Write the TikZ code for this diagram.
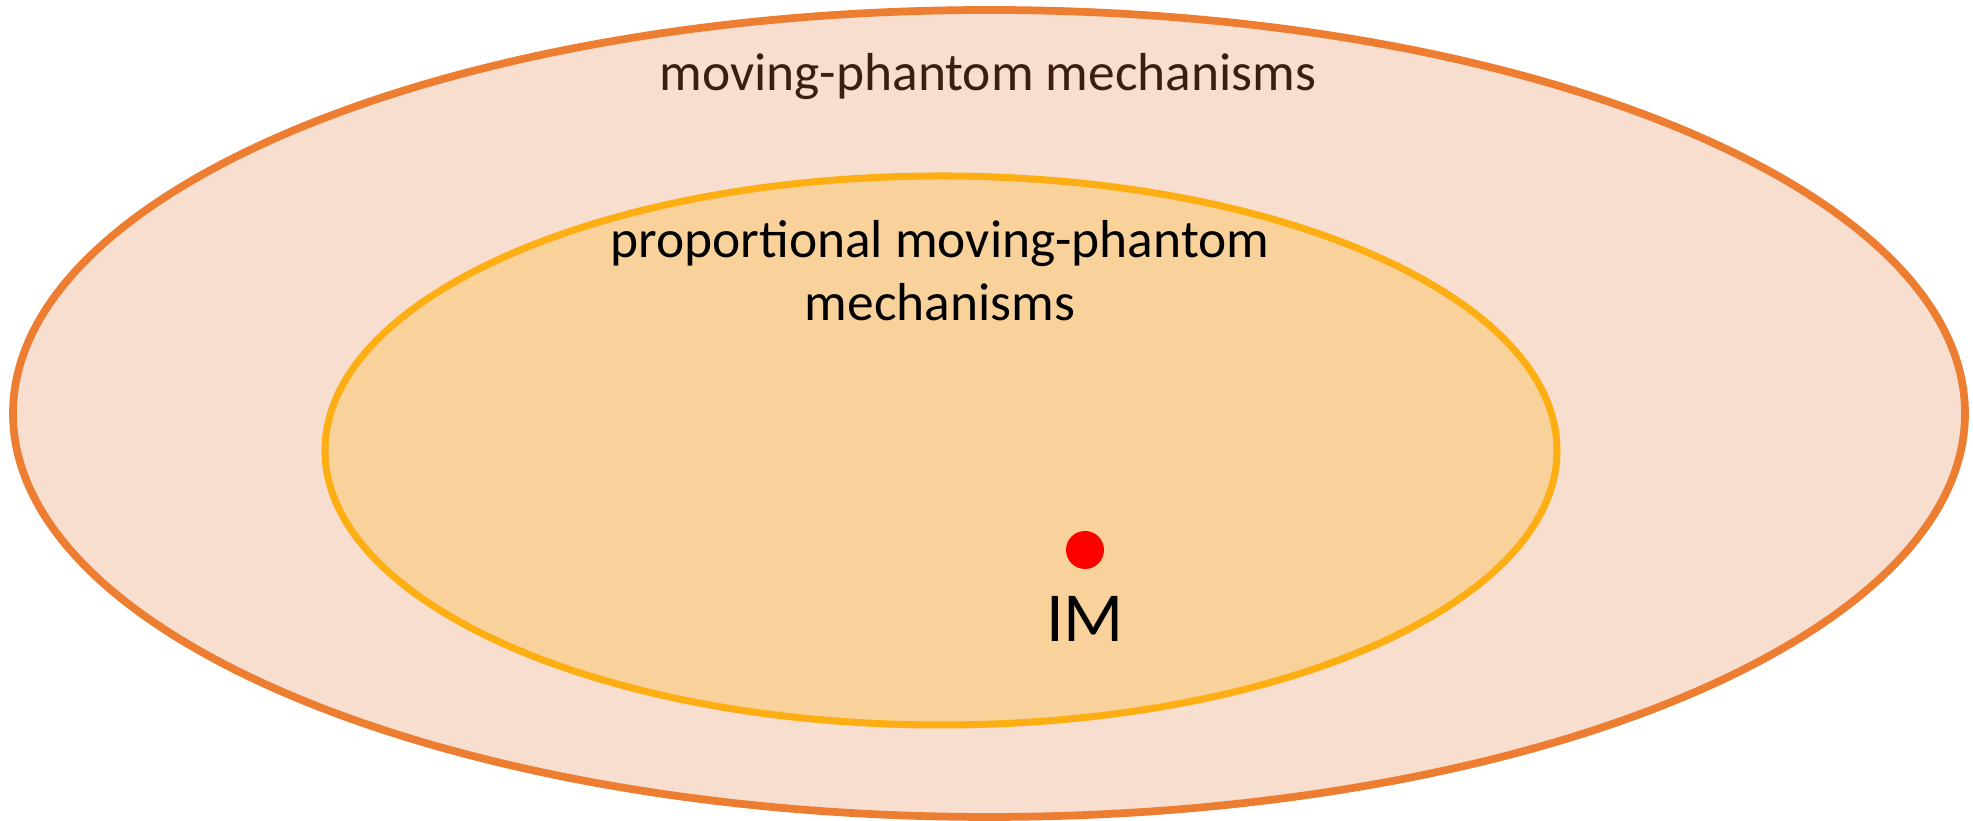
\documentclass[tikz,border=0pt]{standalone}
\usepackage{fontspec}
\setmainfont{Carlito}
\usepackage{tikz}
\usetikzlibrary{shapes.geometric}

\definecolor{outerfill}{RGB}{248,222,206}
\definecolor{outerline}{RGB}{237,125,49}
\definecolor{innerfill}{RGB}{249,210,155}
\definecolor{innerline}{RGB}{252,174,18}
\definecolor{darkbrown}{RGB}{60,30,15}

\tikzset{
  setlabel/.style={anchor=base,inner sep=0pt,font=\fontsize{15.2}{18}\selectfont,align=center},
}

\begin{document}
\begin{tikzpicture}[scale=1]
\useasboundingbox (0,0) rectangle (19.73,8.21);
\filldraw[fill=outerfill,draw=outerline,line width=2.2pt] (9.89,4.075) ellipse (9.76 and 4.035);
\filldraw[fill=innerfill,draw=innerline,line width=2pt] (9.41,3.705) ellipse (6.16 and 2.745);
\node[setlabel,text=darkbrown] (mpm) at (9.88,7.30) {moving-phantom mechanisms};
\node[setlabel] (pmpm) at (9.40,5.00) {proportional moving-phantom\\mechanisms};
\node[circle,fill=red,inner sep=0pt,minimum size=0.38cm] (dot) at (10.85,2.71) {};
\node[anchor=base,inner sep=0pt,font=\fontsize{20}{24}\selectfont] (im) at (10.85,1.79) {IM};
\end{tikzpicture}
\end{document}
